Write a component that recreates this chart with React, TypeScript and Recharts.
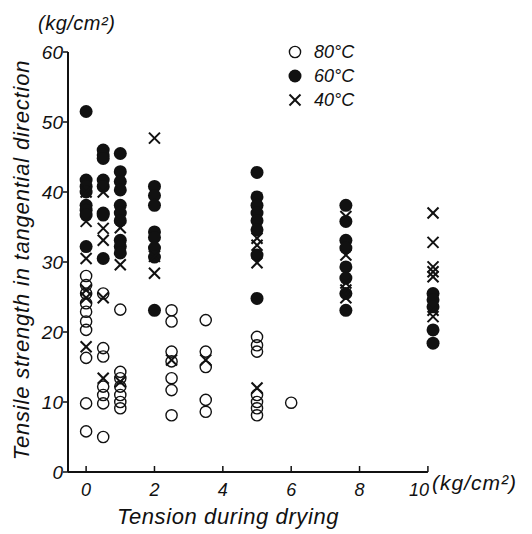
import { ScatterChart, Scatter, XAxis, YAxis, ReferenceLine, Legend } from "recharts";

// tension during drying (kg/cm2) vs tensile strength (kg/cm2)
const T80: [number, number][] = [
  [0, 28], [0, 26.7], [0, 25.5], [0, 24.1], [0, 22.9], [0, 21.5], [0, 20.3], [0, 16.3], [0, 9.8], [0, 5.8],
  [0.5, 25.5], [0.5, 17.7], [0.5, 16.5], [0.5, 12.2], [0.5, 11], [0.5, 9.8], [0.5, 5],
  [1, 23.2], [1, 14.3], [1, 13.4], [1, 12.2], [1, 11], [1, 10], [1, 9.1],
  [2.5, 23.1], [2.5, 21.5], [2.5, 17.2], [2.5, 15.8], [2.5, 13.4], [2.5, 11.7], [2.5, 8.1],
  [3.5, 21.7], [3.5, 17.2], [3.5, 15], [3.5, 10.3], [3.5, 8.6],
  [5, 19.3], [5, 18.1], [5, 17.2], [5, 11], [5, 10], [5, 9.1], [5, 8.1],
  [6, 9.9],
];

const T60: [number, number][] = [
  [0, 51.5], [0, 41.7], [0, 40.8], [0, 40], [0, 38.1], [0, 37.4], [0, 36.7], [0, 32.2],
  [0.5, 46], [0.5, 45.3], [0.5, 44.8], [0.5, 41.7], [0.5, 40.8], [0.5, 37], [0.5, 36.7], [0.5, 30.5],
  [1, 45.5], [1, 42.9], [1, 41.5], [1, 40.3], [1, 38.1], [1, 37], [1, 35.9], [1, 33.1], [1, 32.2], [1, 31.3],
  [2, 40.8], [2, 39.5], [2, 38.1], [2, 34.3], [2, 33.5], [2, 32], [2, 30.7], [2, 23.1],
  [5, 42.8], [5, 39.3], [5, 38.1], [5, 37], [5, 35.9], [5, 34.6], [5, 31], [5, 24.8],
  [7.6, 38.1], [7.6, 35.8], [7.6, 33.1], [7.6, 32], [7.6, 29.3], [7.6, 27.7], [7.6, 25.5], [7.6, 23.1],
  [10.15, 25.5], [10.15, 24.6], [10.15, 23.6], [10.15, 20.3], [10.15, 18.4],
];

const T40: [number, number][] = [
  [0, 40], [0, 35.8], [0, 30.5], [0, 26], [0, 24.9], [0, 17.9],
  [0.5, 40], [0.5, 34.8], [0.5, 33.1], [0.5, 24.9], [0.5, 13.4],
  [1, 34.9], [1, 29.6], [1, 12.9],
  [2, 47.7], [2, 30.8], [2, 28.4],
  [2.5, 16],
  [3.5, 16],
  [5, 33.4], [5, 32.4], [5, 29.9], [5, 12],
  [7.6, 36.5], [7.6, 31], [7.6, 27], [7.6, 26], [7.6, 24.9],
  [10.15, 37], [10.15, 32.8], [10.15, 29.3], [10.15, 28.6], [10.15, 27.9], [10.15, 23.1], [10.15, 22.2],
];

const X_TICKS = [0, 2, 4, 6, 8, 10];
const Y_TICKS = [0, 10, 20, 30, 40, 50, 60];
const LEGEND_NAMES = ["80°C", "60°C", "40°C"];

const FONT = "'Liberation Sans', sans-serif";
const INK = "#111";

const toPts = (arr: [number, number][]) => arr.map(([x, y]) => ({ x, y }));

const OpenDot = (p: any) => <circle cx={p.cx} cy={p.cy} r={5.6} fill="none" stroke={INK} strokeWidth={1.4} />;
const FullDot = (p: any) => <circle cx={p.cx} cy={p.cy} r={6.5} fill={INK} />;
const Cross = (p: any) => (
  <g stroke={INK} strokeWidth={2}>
    <line x1={p.cx - 5.5} y1={p.cy - 5.5} x2={p.cx + 5.5} y2={p.cy + 5.5} />
    <line x1={p.cx - 5.5} y1={p.cy + 5.5} x2={p.cx + 5.5} y2={p.cy - 5.5} />
  </g>
);

const XTick = ({ x, y, payload }: any) => (
  <g>
    <line x1={x} y1={y} x2={x} y2={y - 6} stroke={INK} strokeWidth={1.5} />
    <text
      x={payload.value === 10 ? x - 9 : x}
      y={y + 24}
      textAnchor="middle"
      fontFamily={FONT}
      fontStyle="italic"
      fontSize={18}
      fill={INK}
    >
      {payload.value}
    </text>
  </g>
);

const LegendBox = () => {
  const icons = [
    <circle cx={7} cy={7} r={5.6} fill="none" stroke={INK} strokeWidth={1.4} />,
    <circle cx={7} cy={7} r={6.5} fill={INK} />,
    <g stroke={INK} strokeWidth={2}>
      <line x1={1.5} y1={1.5} x2={12.5} y2={12.5} />
      <line x1={1.5} y1={12.5} x2={12.5} y2={1.5} />
    </g>,
  ];
  return (
    <div style={{ fontFamily: FONT, fontStyle: "italic", fontSize: 18, color: INK }}>
      {LEGEND_NAMES.map((n, i) => (
        <div key={n} style={{ display: "flex", alignItems: "center", height: 24 }}>
          <svg width={14} height={14} style={{ marginRight: 12 }}>
            {icons[i]}
          </svg>
          <span>{n}</span>
        </div>
      ))}
    </div>
  );
};

const textStyle = { fontFamily: FONT, fontStyle: "italic" as const, color: INK };

export default function App() {
  return (
    <div style={{ position: "absolute", left: 0, top: 0, width: 532, height: 534, background: "#fff" }}>
      <ScatterChart width={532} height={534} margin={{ top: 52, right: 87, bottom: 32, left: 18 }}>
        <XAxis
          type="number"
          dataKey="x"
          domain={[-0.53, 10.5]}
          ticks={X_TICKS}
          axisLine={false}
          tickLine={false}
          tickSize={0}
          tickMargin={0}
          height={30}
          tick={<XTick />}
        />
        <YAxis
          type="number"
          dataKey="y"
          domain={[0, 60]}
          ticks={Y_TICKS}
          width={50}
          axisLine={{ stroke: INK, strokeWidth: 2 }}
          tickLine={{ stroke: INK, strokeWidth: 1.5 }}
          tickSize={5}
          tickMargin={0}
          tick={{ fill: INK, fontFamily: FONT, fontStyle: "italic", fontSize: 19 }}
        />
        <ReferenceLine
          segment={[{ x: -0.53, y: 0 }, { x: 10, y: 0 }]}
          stroke={INK}
          strokeWidth={2}
          ifOverflow="visible"
        />
        <Legend
          layout="vertical"
          align="center"
          verticalAlign="middle"
          content={<LegendBox />}
          wrapperStyle={{ position: "absolute", left: 288, top: 40, width: 110 }}
        />
        <Scatter name="80°C" data={toPts(T80)} shape={OpenDot} isAnimationActive={false} />
        <Scatter name="60°C" data={toPts(T60)} shape={FullDot} isAnimationActive={false} />
        <Scatter name="40°C" data={toPts(T40)} shape={Cross} isAnimationActive={false} />
      </ScatterChart>

      <div style={{ ...textStyle, position: "absolute", left: 38, top: 12, fontSize: 20, letterSpacing: 0.5 }}>
        (kg/cm²)
      </div>
      <div style={{ ...textStyle, position: "absolute", left: 432, top: 471, fontSize: 21, letterSpacing: 1 }}>
        (kg/cm²)
      </div>
      <div
        style={{
          ...textStyle,
          position: "absolute",
          left: 0,
          top: 504,
          width: 456,
          textAlign: "center",
          fontSize: 22,
          letterSpacing: 0.6,
        }}
      >
        Tension during drying
      </div>
      <div
        style={{
          ...textStyle,
          position: "absolute",
          left: 22,
          top: 260,
          transform: "translate(-50%, -50%) rotate(-90deg)",
          whiteSpace: "nowrap",
          fontSize: 22,
          letterSpacing: 0.8,
        }}
      >
        Tensile strength in tangential direction
      </div>
    </div>
  );
}
